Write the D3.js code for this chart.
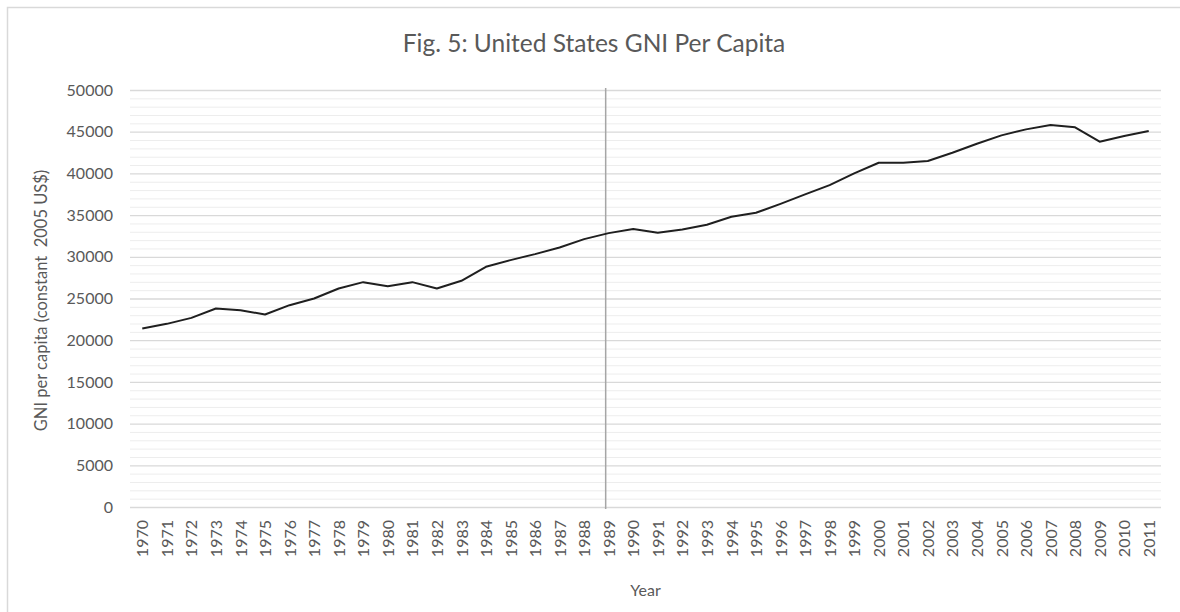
<!DOCTYPE html>
<html>
<head>
<meta charset="utf-8">
<style>
body { margin: 0; background: #fff; }
text { font-family: Lato, "Open Sans", sans-serif; fill: #595959; }
.axis path, .axis line { display: none; }
.minor line { stroke: #ededed; stroke-width: 1; }
.major line { stroke: #d9d9d9; stroke-width: 1.3; }
</style>
</head>
<body>
<svg width="1180" height="612"></svg>
<script src="https://d3js.org/d3.v7.min.js"></script>
<script>

// chart values
var years = ["1970","1971","1972","1973","1974","1975","1976","1977","1978","1979",
  "1980","1981","1982","1983","1984","1985","1986","1987","1988","1989",
  "1990","1991","1992","1993","1994","1995","1996","1997","1998","1999",
  "2000","2001","2002","2003","2004","2005","2006","2007","2008","2009",
  "2010","2011"];

var gni = [21400, 21960, 22680, 23800, 23600, 23080, 24200, 25000, 26200, 26960,
  26480, 26960, 26200, 27120, 28800, 29600, 30320, 31120, 32120, 32840,
  33320, 32880, 33280, 33840, 34800, 35280, 36350, 37480, 38600, 40000,
  41280, 41280, 41480, 42480, 43560, 44560, 45280, 45800, 45520, 43800,
  44480, 45080];

var yTicks = [0, 5000, 10000, 15000, 20000, 25000, 30000, 35000, 40000, 45000, 50000];
var minorTicks = [1000, 2000, 3000, 4000, 6000, 7000, 8000, 9000, 11000, 12000, 13000, 14000,
  16000, 17000, 18000, 19000, 21000, 22000, 23000, 24000, 26000, 27000, 28000, 29000,
  31000, 32000, 33000, 34000, 36000, 37000, 38000, 39000, 41000, 42000, 43000, 44000,
  46000, 47000, 48000, 49000];

var markerYear = "1989";
var title = "Fig. 5: United States GNI Per Capita";
var yTitle = "GNI per capita (constant  2005 US$)";
var xTitle = "Year";

var svg = d3.select("svg");
// plot box (note: "top" is taken by window.top, so use other names)
var plotLeft = 130, plotRight = 1161, plotTop = 90, plotBottom = 507;

// chart border
svg.append("rect")
  .attr("x", 7.5).attr("y", 7.5)
  .attr("width", 1200).attr("height", 700)
  .attr("fill", "none")
  .attr("stroke", "#d9d9d9")
  .attr("stroke-width", 1.5);

var x = d3.scalePoint()
  .domain(years)
  .range([plotLeft, plotRight])
  .padding(0.5);

var y = d3.scaleLinear()
  .domain([0, 50000])
  .range([plotBottom, plotTop]);

// minor gridlines
svg.append("g")
  .attr("class", "minor")
  .attr("transform", "translate(" + plotLeft + ",0)")
  .call(d3.axisLeft(y).tickValues(minorTicks).tickSize(-(plotRight - plotLeft)).tickFormat(""))
  .call(function(g) { g.select(".domain").remove(); });

// major gridlines
svg.append("g")
  .attr("class", "major")
  .attr("transform", "translate(" + plotLeft + ",0)")
  .call(d3.axisLeft(y).tickValues(yTicks).tickSize(-(plotRight - plotLeft)).tickFormat(""))
  .call(function(g) { g.select(".domain").remove(); });

// y tick labels
var yAxis = svg.append("g")
  .attr("class", "axis")
  .attr("transform", "translate(" + (plotLeft - 17) + ",0)")
  .call(d3.axisLeft(y).tickValues(yTicks).tickSize(0).tickPadding(0).tickFormat(d3.format("d")));
yAxis.selectAll("text")
  .style("font-size", "16px")
  .style("fill", "#595959");

// x tick labels, rotated
var xAxis = svg.append("g")
  .attr("class", "axis")
  .attr("transform", "translate(0," + plotBottom + ")")
  .call(d3.axisBottom(x).tickSize(0).tickPadding(0));
xAxis.selectAll("text")
  .style("font-size", "16px")
  .style("fill", "#595959")
  .attr("text-anchor", "end")
  .attr("dy", "0.35em")
  .attr("dx", 0)
  .attr("transform", "translate(0,13) rotate(-90)")
  .attr("x", 0).attr("y", 0);

// vertical marker line
svg.append("line")
  .attr("x1", x(markerYear) - 3).attr("x2", x(markerYear) - 3)
  .attr("y1", plotTop - 2).attr("y2", plotBottom + 2)
  .attr("stroke", "#a6a6a6")
  .attr("stroke-width", 1.5);

// the series
var line = d3.line()
  .x(function(d, i) { return x(years[i]); })
  .y(function(d) { return y(d); });

svg.append("path")
  .datum(gni)
  .attr("fill", "none")
  .attr("stroke", "#1f1f1f")
  .attr("stroke-width", 2)
  .attr("stroke-linejoin", "round")
  .attr("d", line);

// titles
svg.append("text")
  .attr("x", 594).attr("y", 52)
  .attr("text-anchor", "middle")
  .style("font-size", "24.5px")
  .text(title);

svg.append("text")
  .attr("transform", "translate(47," + ((plotTop + plotBottom) / 2 + 2) + ") rotate(-90)")
  .attr("text-anchor", "middle")
  .style("font-size", "16.5px")
  .style("white-space", "pre")
  .text(yTitle);

svg.append("text")
  .attr("x", (plotLeft + plotRight) / 2).attr("y", 596)
  .attr("text-anchor", "middle")
  .style("font-size", "16px")
  .text(xTitle);

</script>
</body>
</html>
